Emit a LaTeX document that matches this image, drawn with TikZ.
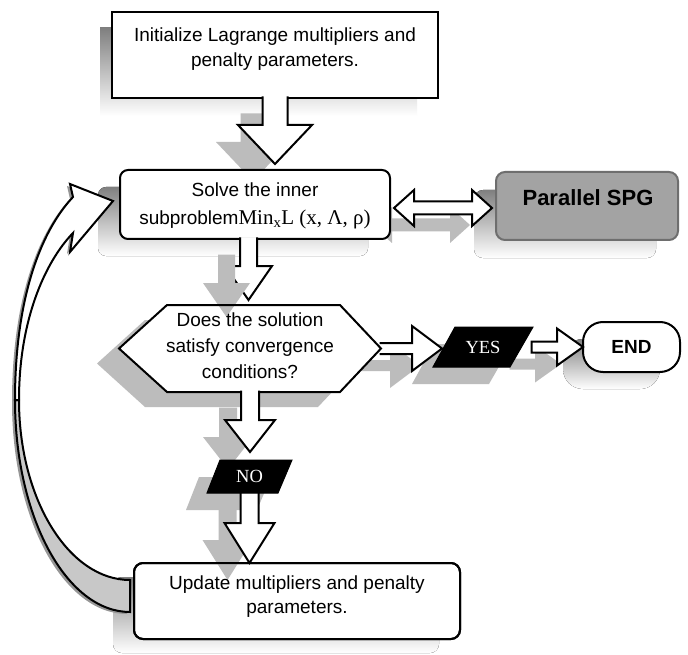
\documentclass[tikz,border=0pt]{standalone}
\usepackage{fontspec}
\setmainfont{Liberation Sans}
\newfontfamily\serifface{Liberation Serif}
\usetikzlibrary{calc}
\pgfdeclarelayer{paper}
\pgfdeclarelayer{shadows}
\pgfsetlayers{paper,shadows,main}

\definecolor{shade}{RGB}{188,188,188}
\definecolor{shadeedge}{RGB}{150,150,150}
\definecolor{spgfill}{RGB}{163,163,163}
\definecolor{spgline}{RGB}{110,110,110}
\definecolor{twist}{RGB}{200,200,200}

% downward block arrow: start anchor, target anchor, shaft half-width,
% head half-width, head length, gap left before the target
\newcommand\downshape[6]{($(#1)+(-#3,-1.5)$) -- ($(#1 |- #2)+(-#3,{-(#5)-(#6)})$) -- ($(#1 |- #2)+(-#4,{-(#5)-(#6)})$) -- ($(#1 |- #2)+(0,{-(#6)})$) -- ($(#1 |- #2)+(#4,{-(#5)-(#6)})$) -- ($(#1 |- #2)+(#3,{-(#5)-(#6)})$) -- ($(#1)+(#3,-1.5)$)}
% rightward block arrow, same arguments
\newcommand\rightshape[6]{($(#1)+(-1.5,-#3)$) -- ($(#1 -| #2)+({-(#5)-(#6)},-#3)$) -- ($(#1 -| #2)+({-(#5)-(#6)},-#4)$) -- ($(#1 -| #2)+({-(#6)},0)$) -- ($(#1 -| #2)+({-(#5)-(#6)},#4)$) -- ($(#1 -| #2)+({-(#5)-(#6)},#3)$) -- ($(#1)+(-1.5,#3)$)}
% decision hexagon and the two flags
\newcommand\hexpath{(hex.west) -- ($(hex.north west)+(48,0)$) -- ($(hex.north east)+(-41,0)$) -- (hex.east) -- ($(hex.south east)+(-41,0)$) -- ($(hex.south west)+(48,0)$) -- cycle}
\newcommand\yespath{(yes.south west) -- ($(yes.north west)+(22,0)$) -- (yes.north east) -- ($(yes.south east)+(-23,0)$) -- cycle}
\newcommand\nopath{(no.south west) -- ($(no.north west)+(13,0)$) -- (no.north east) -- ($(no.south east)+(-14,0)$) -- cycle}
% two-headed arrow between the solver box and Parallel SPG
\newcommand\dblpath{(dl) -- ($(dl)+(20,-18)$) -- ($(dl)+(20,-6.5)$) -- ($(dr)+(-20,-6.5)$) -- ($(dr)+(-20,-18)$) -- (dr) -- ($(dr)+(-20,18)$) -- ($(dr)+(-20,6.5)$) -- ($(dl)+(20,6.5)$) -- ($(dl)+(20,18)$) -- cycle}
% the loop arrow back to the solver: upper (front) and lower (back) faces
\newcommand\loopfront{($(footO)+(-115,-212)$) .. controls ($(footO)+(-115,-312)$) and ($(tipL)+(-73,31)$) .. ($(tipL)+(-40,-4)$) -- ($(tipL)+(-43,-17)$) -- (tipL) -- ($(tipL)+(-43,51)$) -- ($(tipL)+(-40,32)$) .. controls ($(tipL)+(-68,61)$) and ($(footO)+(-111,-292)$) .. ($(footO)+(-111,-212)$) -- cycle}
\newcommand\loopback{($(footO)+(-115,-212)$) .. controls ($(footO)+(-115,-95)$) and ($(footO)+(-63.5,0)$) .. (footO) -- (footI) .. controls ($(footI)+(-61.3,0)$) and ($(footO)+(-111,-113)$) .. ($(footO)+(-111,-212)$) -- cycle}

\tikzset{
  every node/.style={inner sep=0pt, outer sep=0pt},
  frame/.style={rectangle, draw=none, fill=none},
  whitebox/.style={rectangle, draw=black, fill=white, line width=2pt},
  words/.style={font=\fontsize{19}{25}\selectfont, align=center},
  flagtext/.style={text=white, font=\serifface\fontsize{18.5}{20}\selectfont},
  arrbody/.style={draw=black, fill=white, line width=2pt, line join=miter, miter limit=10},
  arrshade/.style={fill=shade, transform canvas={shift={(-22pt,-17pt)}}},
  flag/.style={fill=black, draw=black, line width=1pt, line join=miter},
}

\begin{document}
\begin{tikzpicture}[x=1pt,y=-1pt]
\useasboundingbox (0,0) rectangle (688,655);
\begin{pgfonlayer}{paper}
  \fill[white] (0,0) rectangle (688,655);
\end{pgfonlayer}

% ---- boxes ----
\node[whitebox, minimum width=326pt, minimum height=86pt] (init) at (275,55) {};
\node[whitebox, rounded corners=8pt, minimum width=270pt, minimum height=69pt] (solve) at (255,204.5) {};
\node[rectangle, draw=spgline, fill=spgfill, line width=2pt, rounded corners=9pt, minimum width=182pt, minimum height=68pt] (spg) at (587,206) {};
\node[whitebox, rounded corners=20pt, minimum width=97pt, minimum height=50pt] (stop) at (631.5,347) {};
\node[whitebox, rounded corners=9pt, minimum width=326pt, minimum height=76pt] (update) at (297,601) {};
\node[frame, minimum width=262pt, minimum height=87pt] (hex) at (250,348.5) {};
\node[frame, minimum width=100pt, minimum height=40pt] (yes) at (483,347) {};
\node[frame, minimum width=85pt, minimum height=33pt] (no) at (249.5,476.5) {};

\coordinate (solvefoot) at ($(solve.south)+(-6.5,0)$);
\coordinate (dl) at ($(solve.east)+(4,3.5)$);
\coordinate (dr) at ($(spg.west |- dl)+(-4,0)$);
\coordinate (footO) at ($(update.west)+(-4,11)$);
\coordinate (footI) at ($(update.west)+(-4,-21)$);
\coordinate (tipL) at ($(solve.west)+(-7,-3.5)$);

% ---- cast shadows ----
\begin{pgfonlayer}{shadows}
  \fill[shade] ($(init.north west)+(-12,16)$) rectangle ($(init.south east)+(-21,18)$);
  \fill[shade, rounded corners=8pt] ($(solve.north west)+(-22,17)$) rectangle ($(solve.south east)+(-22,17)$);
  \fill[shade, rounded corners=9pt] ($(spg.north west)+(-22,18)$) rectangle ($(spg.south east)+(-22,18)$);
  \fill[shade, rounded corners=20pt] ($(stop.north west)+(-20,17)$) rectangle ($(stop.south east)+(-20,17)$);
  \fill[shade, rounded corners=9pt] ($(update.north west)+(-21,14)$) rectangle ($(update.south east)+(-21,14)$);
  \path[fill=shade, transform canvas={shift={(-22pt,-15pt)}}] \hexpath;
  \path[fill=shade, transform canvas={shift={(-21pt,-17pt)}}] \yespath;
  \path[fill=shade, transform canvas={shift={(-21pt,-17pt)}}] \nopath;
  \path[arrshade] \downshape{init.south}{solve.north}{12.5}{37}{39}{6};
  \path[arrshade] \downshape{hex.south}{no.north}{9}{25}{32}{8};
  \path[arrshade] \rightshape{hex.east}{yes.west}{5.5}{22.5}{30}{-9} -- cycle;
  \path[arrshade] \rightshape{yes.east}{stop.west}{5.5}{18.5}{26}{0} -- cycle;
  \path[arrshade] \dblpath;
  \path[fill=shadeedge, transform canvas={shift={(-3pt,-2pt)}}] \loopfront;
  \path[fill=shadeedge, transform canvas={shift={(-3pt,-2pt)}}] \loopback;
\end{pgfonlayer}

% ---- block arrows ----
\path[arrbody] \downshape{init.south}{solve.north}{12.5}{37}{39}{6};
\path[arrbody] \downshape{solvefoot}{hex.north}{8.5}{23.5}{34}{5};
\path[arrbody] \rightshape{hex.east}{yes.west}{5.5}{22.5}{30}{-9};

% ---- decision hexagon (fill, arrow shadow over it, outline) ----
\path[fill=white] \hexpath;
\path[arrshade] \downshape{solvefoot}{hex.north}{8.5}{23.5}{34}{5};
\path[draw=black, line width=2pt, line join=miter] \hexpath;

\path[arrbody] \downshape{hex.south}{no.north}{9}{25}{32}{8};
\path[arrbody] \rightshape{yes.east}{stop.west}{5.5}{18.5}{26}{0} -- cycle;
\path[arrbody] \dblpath;

% ---- NO branch into the update box ----
\path[arrshade] \downshape{no.south}{update.north}{9}{25}{40}{0};
\draw[line width=2pt, rounded corners=9pt] (update.north west) rectangle (update.south east);
\path[arrbody] \downshape{no.south}{update.north}{9}{25}{40}{0};

% ---- flags ----
\path[flag] \yespath;
\path[flag] \nopath;

% ---- loop back to the solver ----
\path[draw=black, fill=twist, line width=2pt] \loopback;
\path[draw=black, fill=white, line width=2pt, line join=miter] \loopfront;

% ---- texts ----
\node[words] (init-t) at (275,49.5) {Initialize Lagrange multipliers and\\penalty parameters.};
\node[words, font=\fontsize{19}{28}\selectfont] (solve-t) at (255,206) {Solve the inner\\subproblem{\serifface\fontsize{21}{25}\selectfont Min\textsubscript{x}L (x, Λ, ρ)}};
\node[font=\bfseries\fontsize{22}{26}\selectfont] (spg-t) at (588,198) {Parallel SPG};
\node[words, font=\fontsize{19}{26}\selectfont] (hex-t) at (250,346) {Does the solution\\satisfy convergence\\conditions?};
\node[flagtext] (yes-t) at (yes) {YES};
\node[flagtext] (no-t) at (no) {NO};
\node[font=\bfseries\fontsize{19}{23}\selectfont] (stop-t) at (stop) {END};
\node[words, font=\fontsize{19}{24}\selectfont] (update-t) at (297,597) {Update multipliers and penalty\\parameters.};
\end{tikzpicture}
\end{document}
